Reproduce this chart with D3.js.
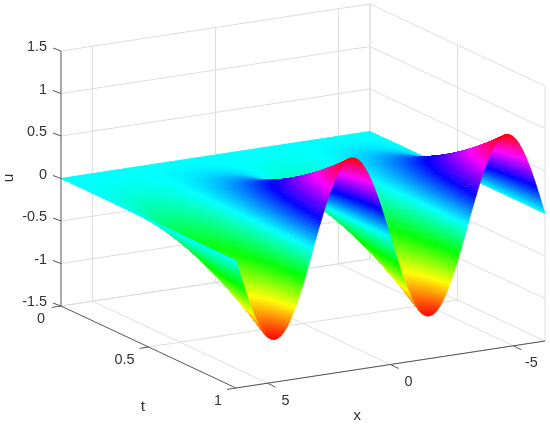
<!DOCTYPE html>
<html><head><meta charset="utf-8">
<style>html,body{margin:0;padding:0;background:#fff}#w{position:relative;width:550px;height:426px;filter:blur(.35px)}svg,canvas{position:absolute;left:0;top:0;display:block}text{font-family:"Liberation Sans",Arial,sans-serif;fill:#333;font-size:14.4px}</style>
<script src="https://cdn.jsdelivr.net/npm/d3@7"></script></head><body>
<div id="w"><svg id="back" width="550" height="426"></svg><canvas id="surf" width="550" height="426"></canvas><svg id="front" width="550" height="426"></svg></div>
<script>
const xDomain = [-6.2832, 6.2832];
const tDomain = [0, 1];
const uDomain = [-1.5, 1.5];
const xTicks = [5, 0, -5];
const tTicks = [0, 0.5, 1];
const uTicks = [-1.5, -1, -0.5, 0, 0.5, 1, 1.5];
const xTickLabels = ["5", "0", "-5"];
const tTickLabels = ["0", "0.5", "1"];
const uTickLabels = ["-1.5", "-1", "-0.5", "0", "0.5", "1", "1.5"];
// u along the t = 1 edge, read every 1/48 of the x span, from x = -2pi to x = 2pi
const edgeU = [
0,.131,.259,.383,.5,.609,.707,.793,.866,.924,.966,.991,1,.991,.966,.924,.866,.793,.707,.609,.5,.383,.259,.131,
0,-.131,-.259,-.383,-.5,-.609,-.707,-.793,-.866,-.924,-.966,-.991,-1,-.991,-.966,-.924,-.866,-.793,-.707,-.609,-.5,-.383,-.259,-.131,
0,.131,.259,.383,.5,.609,.707,.793,.866,.924,.966,.991,1,.991,.966,.924,.866,.793,.707,.609,.5,.383,.259,.131,
0,-.131,-.259,-.383,-.5,-.609,-.707,-.793,-.866,-.924,-.966,-.991,-1,-.991,-.966,-.924,-.866,-.793,-.707,-.609,-.5,-.383,-.259,-.131,0];
// growth of the amplitude along t, read at t = 0, 0.05, ... 1
const growth = [0,.003,.01,.023,.04,.063,.09,.123,.16,.203,.25,.303,.36,.423,.49,.563,.64,.723,.81,.903,1];

const back = d3.select("#back"), front = d3.select("#front");
const xPx = d3.scaleLinear().domain([6.2832,-6.2832]).range([0,309]);
const xPy = d3.scaleLinear().domain([6.2832,-6.2832]).range([0,-47]);
const tPx = d3.scaleLinear().domain(tDomain).range([0,175]);
const tPy = d3.scaleLinear().domain(tDomain).range([0,82]);
const uPy = d3.scaleLinear().domain(uDomain).range([0,-255]);
const P = (x,t,u)=>[61+xPx(x)+tPx(t), 306+xPy(x)+tPy(t)+uPy(u)];
const color = d3.scaleSequential(v=>d3.hsl(v*360,1,.5).formatHex()).domain([-1,1]);
const line = d3.line();

const gGrid = back.append("g").attr("fill","none").attr("stroke","#dedede").attr("stroke-width",1);
const seg=(g,a,b)=>g.append("path").attr("d",line([P(...a),P(...b)]));
const xL=6.2832,xR=-6.2832,uB=-1.5;
uTicks.forEach(u=>{seg(gGrid,[xL,0,u],[xR,0,u]);seg(gGrid,[xR,0,u],[xR,1,u]);});
xTicks.forEach(x=>{seg(gGrid,[x,0,uB],[x,0,1.5]);seg(gGrid,[x,0,uB],[x,1,uB]);});
tTicks.forEach(t=>{seg(gGrid,[xR,t,uB],[xR,t,1.5]);seg(gGrid,[xL,t,uB],[xR,t,uB]);});
seg(gGrid,[xR,0,uB],[xR,0,1.5]);

// surface, painted back to front; table values shaded linearly between nodes
const ctx=document.getElementById("surf").getContext("2d");
const xStep=(xDomain[1]-xDomain[0])/(edgeU.length-1);
const tStep=1/(growth.length-1);
const SX=4,ST=8;
const lookup=(arr,f)=>{const i=Math.min(Math.floor(f),arr.length-2);return d3.interpolateNumber(arr[i],arr[i+1])(f-i);};
const val=(fi,fj)=>lookup(edgeU,fi)*lookup(growth,fj);
ctx.lineWidth=.6;
for(let j=0;j<(growth.length-1)*ST;j++){
 for(let i=0;i<(edgeU.length-1)*SX;i++){
  const fi0=i/SX,fi1=(i+1)/SX,fj0=j/ST,fj1=(j+1)/ST;
  const x0=xDomain[0]+fi0*xStep,x1=xDomain[0]+fi1*xStep,t0=fj0*tStep,t1=fj1*tStep;
  const u00=val(fi0,fj0),u10=val(fi1,fj0),u11=val(fi1,fj1),u01=val(fi0,fj1);
  const a=P(x0,t0,u00),b=P(x1,t0,u10),c=P(x1,t1,u11),d=P(x0,t1,u01);
  const col=color((u00+u10+u11+u01)/4);
  ctx.fillStyle=col;ctx.strokeStyle=col;
  ctx.beginPath();ctx.moveTo(...a);ctx.lineTo(...b);ctx.lineTo(...c);ctx.lineTo(...d);ctx.closePath();ctx.fill();ctx.stroke();
 }
}

// axes
const gAx=front.append("g").attr("fill","none").attr("stroke","#555").attr("stroke-width",1);
seg(gAx,[xL,0,uB],[xL,0,1.5]);
seg(gAx,[xL,0,uB],[xL,1,uB]);
seg(gAx,[xL,1,uB],[xR,1,uB]);
uTicks.forEach((u,i)=>{const p=P(xL,0,u);gAx.append("path").attr("d",line([p,[p[0]-8,p[1]-3]]));
 front.append("text").attr("x",47).attr("y",p[1]-5).attr("dy",".35em").attr("text-anchor","end").text(uTickLabels[i]);});
const tDx=[-20,-24,-18];
tTicks.forEach((t,i)=>{const p=P(xL,t,uB);gAx.append("path").attr("d",line([p,[p[0]-9,p[1]+1.4]]));
 front.append("text").attr("x",p[0]+tDx[i]).attr("y",p[1]+12).attr("dy",".35em").attr("text-anchor","middle").text(tTickLabels[i]);});
xTicks.forEach((x,i)=>{const p=P(x,1,uB);gAx.append("path").attr("d",line([p,[p[0]+8,p[1]+4]]));
 front.append("text").attr("x",p[0]+18).attr("y",p[1]+16.5).attr("dy",".35em").attr("text-anchor","middle").text(xTickLabels[i]);});
const lab=(sel)=>sel.attr("dy",".35em").attr("text-anchor","middle").style("font-size","15.5px");
lab(front.append("text").attr("x",143).attr("y",406).text("t"));
lab(front.append("text").attr("x",357).attr("y",415).text("x"));
lab(front.append("text").attr("transform","translate(8,178) rotate(-90)").text("u"));
</script></body></html>
